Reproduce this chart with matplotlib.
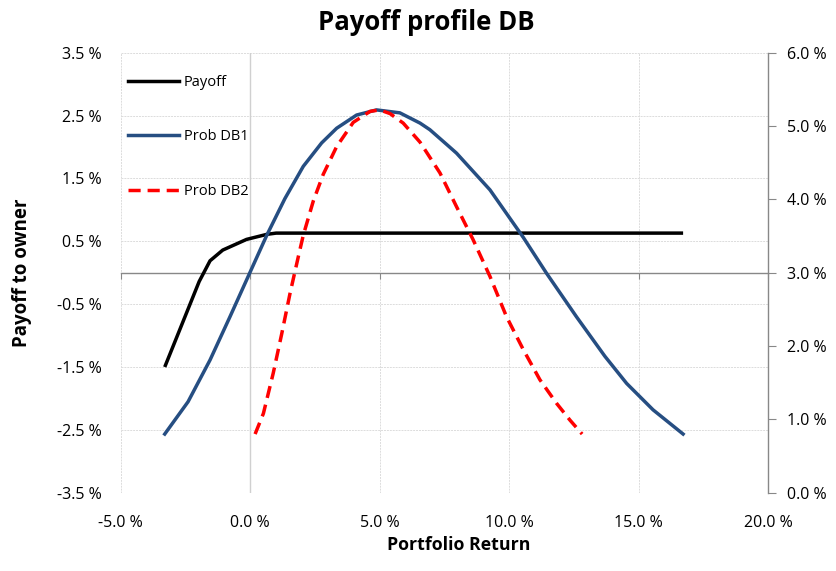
import matplotlib
matplotlib.use("Agg")
import matplotlib.pyplot as plt
from matplotlib.lines import Line2D

plt.rcParams['font.family'] = ['Open Sans', 'DejaVu Sans']

# === Données
payoff_x = [-3.3, -1.97, -1.55, -1.06, -0.14, 0.64, 1.0, 16.72]
payoff_y = [-1.5, -0.14, 0.19, 0.36, 0.53, 0.61, 0.63, 0.63]

db1_x = [-3.3, -2.4, -1.55, -0.78, 0.0, 0.64, 1.34, 2.05, 2.76, 3.34, 4.11, 4.88,
         5.78, 6.56, 6.94, 7.65, 7.97, 9.26, 10.55, 11.45, 12.6, 13.7, 14.54, 15.56, 16.72]
db1_y = [0.80, 1.24, 1.81, 2.40, 3.01, 3.51, 4.01, 4.45, 4.77, 4.97, 5.15, 5.22,
         5.18, 5.04, 4.95, 4.73, 4.63, 4.13, 3.48, 2.99, 2.40, 1.86, 1.49, 1.13, 0.80]

db2_x = [0.19, 0.51, 0.89, 1.22, 1.54, 1.86, 2.05, 2.44, 2.82, 3.34, 3.98, 4.63, 5.0,
         5.4, 5.91, 6.56, 7.33, 7.97, 8.61, 9.26, 9.9, 10.55, 11.19, 11.83, 12.35, 12.82]
db2_y = [0.80, 1.08, 1.63, 2.17, 2.72, 3.22, 3.51, 3.98, 4.34, 4.72, 5.05, 5.20, 5.22,
         5.17, 5.04, 4.78, 4.36, 3.90, 3.45, 2.95, 2.40, 1.95, 1.54, 1.22, 0.99, 0.80]

x_ticks = [-5, 0, 5, 10, 15, 20]
left_ticks = [-3.5, -2.5, -1.5, -0.5, 0.5, 1.5, 2.5, 3.5]
right_ticks = [0, 1, 2, 3, 4, 5, 6]

# === Couleurs
c_payoff = '#000000'
c_db1 = '#264E82'
c_db2 = '#FF0000'
c_axis = '#888888'
c_grid = '#DCDCDC'

fig = plt.figure(figsize=(8.36, 5.71), dpi=100)
fig.patch.set_facecolor('white')
ax = fig.add_axes([0.1444, 0.1371, 0.7743, 0.7706])
ax2 = ax.twinx()

ax.set_xlim(-5, 20)
ax.set_ylim(-3.5, 3.5)
ax2.set_ylim(0, 6)

# grille pointillée
for xv in x_ticks:
    ax.axvline(xv, color=c_grid, lw=0.7, ls=(0, (2, 1)), zorder=0)
for yv in left_ticks:
    ax.axhline(yv, color=c_grid, lw=0.7, ls=(0, (2, 1)), zorder=0)
ax.axvline(0, color='#D0D0D0', lw=1.0, zorder=0.5)

# courbes
ax.plot(payoff_x, payoff_y, color=c_payoff, lw=2.5, solid_capstyle='butt', zorder=3)
ax2.plot(db1_x, db1_y, color=c_db1, lw=2.5, zorder=3)
ax2.plot(db2_x, db2_y, color=c_db2, lw=2.5, dashes=(3.5, 2.0), zorder=3)

# axe gauche
ax.set_yticks(left_ticks)
ax.set_yticklabels([f"{v:.1f} %" for v in left_ticks])
ax.tick_params(axis='y', length=0, pad=14, labelsize=11.5)
for s in ['left', 'top', 'right']:
    ax.spines[s].set_visible(False)

# axe x croisant à 0
ax.spines['bottom'].set_position(('data', 0))
ax.spines['bottom'].set_color(c_axis)
ax.spines['bottom'].set_linewidth(1.0)
ax.set_xticks(x_ticks)
ax.tick_params(axis='x', direction='out', length=4.5, color=c_axis, labelbottom=False)

sec = ax.secondary_xaxis('bottom')
sec.set_xticks(x_ticks)
sec.set_xticklabels([f"{v:.1f} %" for v in x_ticks])
sec.tick_params(length=0, pad=16, labelsize=11.5)
sec.spines['bottom'].set_visible(False)

# axe droit
for s in ['left', 'top', 'bottom']:
    ax2.spines[s].set_visible(False)
ax2.spines['right'].set_color(c_axis)
ax2.spines['right'].set_linewidth(1.0)
ax2.set_yticks(right_ticks)
ax2.set_yticklabels([f"{v:.1f} %" for v in right_ticks])
ax2.tick_params(axis='y', direction='out', length=5.5, color=c_axis, pad=8, labelsize=11.5)

# légende
handles = [
    Line2D([], [], color=c_payoff, lw=2.5),
    Line2D([], [], color=c_db1, lw=2.5),
    Line2D([], [], color=c_db2, lw=2.5, dashes=(3.5, 2.0)),
]
ax2.legend(handles, ['Payoff', 'Prob DB1', 'Prob DB2'], loc='upper left',
           bbox_to_anchor=(0.011, 0.95), frameon=False, fontsize=10.5,
           handlelength=3.5, handletextpad=0.35, labelspacing=2.72,
           borderpad=0, borderaxespad=0)

# titres
fig.text(426 / 836, 1 - 22 / 571, 'Payoff profile DB', ha='center', va='center',
         fontsize=18.5, fontweight='bold')
fig.text(459 / 836, 1 - 545 / 571, 'Portfolio Return', ha='center', va='center',
         fontsize=12.8, fontweight='bold')
fig.text(22 / 836, 1 - 273 / 571, 'Payoff to owner', ha='center', va='center',
         rotation=90, fontsize=13.5, fontweight='bold')

fig.savefig('out.png', dpi=100)
